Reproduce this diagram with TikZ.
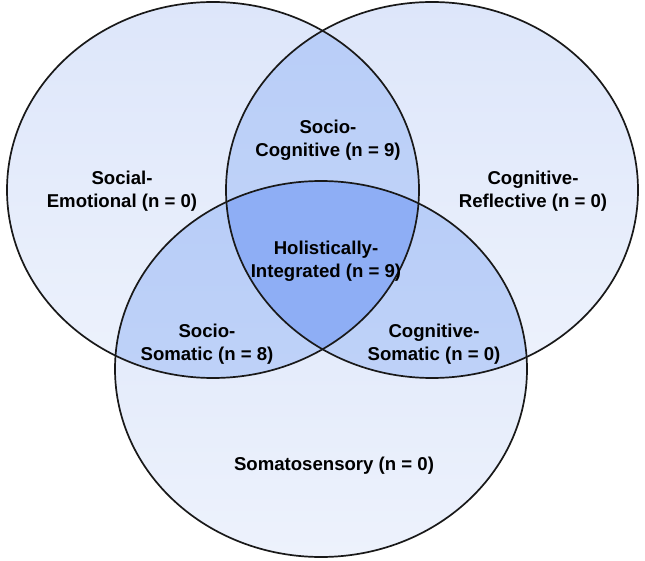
\documentclass[tikz,border=0pt]{standalone}
\usepackage{fontspec}
\setmainfont{Liberation Sans}
\begin{document}
\begin{tikzpicture}[x=1pt,y=-1pt,
  lbl/.style={align=center,font=\fontsize{18.6}{23.5}\selectfont\bfseries,inner sep=0pt},
  ring/.style={draw=black!90,line width=1.7pt},
  one/.style={top color=blue1a,bottom color=blue1b,shading angle=0},
  two/.style={top color=blue2a,bottom color=blue2b,shading angle=0},
  three/.style={fill=blue3}]
\definecolor{blue1a}{HTML}{DDE6FA}
\definecolor{blue1b}{HTML}{EDF2FC}
\definecolor{blue2a}{HTML}{B8CDF8}
\definecolor{blue2b}{HTML}{C4D6F9}
\definecolor{blue3}{HTML}{8EAEF5}
\useasboundingbox (0,0) rectangle (645,561);
\coordinate (L) at (213,190);
\coordinate (R) at (432,190);
\coordinate (B) at (321,369);
\def\rx{206pt}\def\ry{188pt}
% single fills
\fill[one] (L) ellipse [x radius=\rx, y radius=\ry];
\fill[one] (R) ellipse [x radius=\rx, y radius=\ry];
\fill[one] (B) ellipse [x radius=\rx, y radius=\ry];
% pairwise overlaps
\begin{scope}
  \clip (L) ellipse [x radius=\rx, y radius=\ry];
  \fill[two] (R) ellipse [x radius=\rx, y radius=\ry];
  \fill[two] (B) ellipse [x radius=\rx, y radius=\ry];
\end{scope}
\begin{scope}
  \clip (R) ellipse [x radius=\rx, y radius=\ry];
  \fill[two] (B) ellipse [x radius=\rx, y radius=\ry];
\end{scope}
% triple overlap
\begin{scope}
  \clip (L) ellipse [x radius=\rx, y radius=\ry];
  \clip (R) ellipse [x radius=\rx, y radius=\ry];
  \fill[three] (B) ellipse [x radius=\rx, y radius=\ry];
\end{scope}
% outlines
\draw[ring] (L) ellipse [x radius=\rx, y radius=\ry];
\draw[ring] (R) ellipse [x radius=\rx, y radius=\ry];
\draw[ring] (B) ellipse [x radius=\rx, y radius=\ry];
% labels
\node[lbl] (se) at (122,191) {Social-\\Emotional (n = 0)};
\node[lbl] (sc) at (328,140) {Socio-\\Cognitive (n = 9)};
\node[lbl] (cr) at (533,191) {Cognitive-\\Reflective (n = 0)};
\node[lbl] (hi) at (326,261) {Holistically-\\Integrated (n = 9)};
\node[lbl] (ss) at (207,344) {Socio-\\Somatic (n = 8)};
\node[lbl] (cs) at (434,344) {Cognitive-\\Somatic (n = 0)};
\node[lbl] (so) at (334,466) {Somatosensory (n = 0)};
\end{tikzpicture}
\end{document}
